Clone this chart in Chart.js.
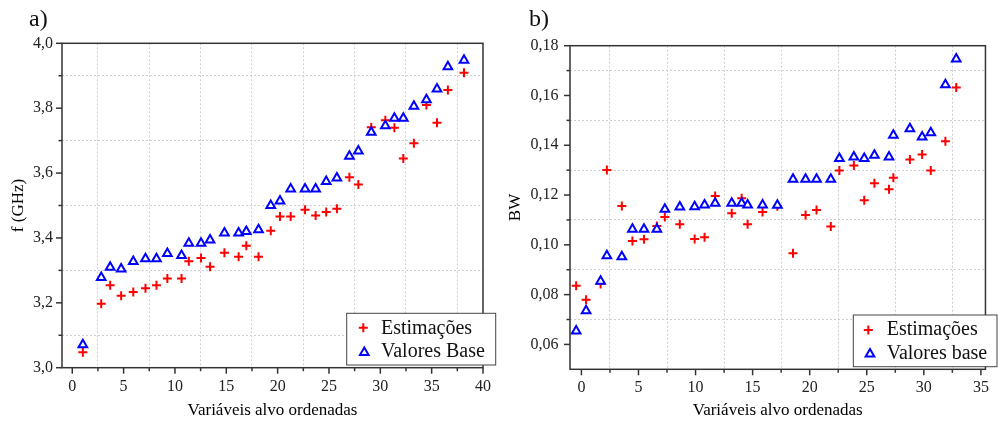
<!DOCTYPE html>
<html>
<head>
<meta charset="utf-8">
<script src="https://cdn.jsdelivr.net/npm/chart.js@4.4.1/dist/chart.umd.min.js"></script>
<style>
  html, body { margin: 0; padding: 0; background: #fff; }
  #wrap { position: relative; width: 998px; height: 425px; overflow: hidden; }
  .box { position: absolute; top: 0; height: 425px; }
</style>
</head>
<body>
<div id="wrap">
  <div class="box" style="left:0;width:500px"><canvas id="chartA"></canvas></div>
  <div class="box" style="left:500px;width:498px"><canvas id="chartB"></canvas></div>
</div>
<script>
// painel a) - frequência
const xA = [1.03, 2.82, 3.69, 4.76, 5.94, 7.13, 8.2, 9.26, 10.64, 11.35, 12.54, 13.42, 14.82, 16.2, 16.95, 18.14, 19.33,
  20.23, 21.27, 22.67, 23.7, 24.73, 25.77, 26.99, 27.86, 29.12, 30.49, 31.37, 32.24, 33.27, 34.49, 35.52, 36.58, 38.15];
const estA = [3.048, 3.197, 3.254, 3.222, 3.233, 3.245, 3.254, 3.275, 3.275, 3.328, 3.338, 3.311, 3.354, 3.342, 3.376, 3.342, 3.422,
  3.466, 3.466, 3.487, 3.469, 3.480, 3.490, 3.587, 3.565, 3.741, 3.763, 3.740, 3.645, 3.692, 3.810, 3.755, 3.856, 3.909];
const baseA = [3.071, 3.278, 3.310, 3.304, 3.327, 3.336, 3.336, 3.352, 3.346, 3.384, 3.384, 3.394, 3.415, 3.415, 3.420, 3.425, 3.500,
  3.514, 3.551, 3.551, 3.551, 3.574, 3.585, 3.652, 3.668, 3.726, 3.746, 3.769, 3.769, 3.806, 3.826, 3.859, 3.928, 3.948];
const xTicksA = [0, 5, 10, 15, 20, 25, 30, 35, 40];
const yTicksA = [3.0, 3.2, 3.4, 3.6, 3.8, 4.0];

// painel b) - largura de banda
const xB = [-0.46, 0.41, 1.68, 2.23, 3.54, 4.47, 5.48, 6.61, 7.31, 8.62, 9.92, 10.79, 11.72, 13.17, 14.04, 14.56, 15.87,
  17.17, 18.54, 19.64, 20.6, 21.85, 22.6, 23.87, 24.78, 25.67, 26.95, 27.33, 28.78, 29.85, 30.61, 31.89, 32.84];
const estB = [0.0836, 0.0779, 0.0843, 0.1301, 0.1156, 0.1015, 0.1022, 0.1076, 0.1112, 0.1083, 0.1023, 0.1030, 0.1196, 0.1127,
  0.1187, 0.1083, 0.1132, 0.1155, 0.0966, 0.1120, 0.1140, 0.1074, 0.1299, 0.1319, 0.1179, 0.1247, 0.1223, 0.1270, 0.1343,
  0.1363, 0.1299, 0.1416, 0.1632];
const baseB = [0.0654, 0.0735, 0.0854, 0.0956, 0.0952, 0.1063, 0.1063, 0.1063, 0.1143, 0.1152, 0.1153, 0.1160, 0.1167, 0.1167,
  0.1167, 0.1160, 0.1160, 0.1159, 0.1263, 0.1263, 0.1263, 0.1263, 0.1347, 0.1353, 0.1347, 0.1360, 0.1353, 0.1440, 0.1466,
  0.1433, 0.1450, 0.1643, 0.1747];
const xTicksB = [0, 5, 10, 15, 20, 25, 30, 35];
const yTicksB = [0.06, 0.08, 0.10, 0.12, 0.14, 0.16, 0.18];

const RED = '#ff0000';
const BLUE = '#0000ff';
const SERIF = "'Liberation Serif', 'Times New Roman', serif";
Chart.defaults.font.family = SERIF;
Chart.defaults.color = '#222';

// ticks principais + intermédios (Origin põe a grelha nos intermédios)
function withMinor(major) {
  const out = [];
  for (let i = 0; i < major.length; i++) {
    out.push({ value: major[i], minor: false });
    if (i < major.length - 1) out.push({ value: (major[i] + major[i + 1]) / 2, minor: true });
  }
  return out;
}
function fmt(v, d) { return v.toFixed(d).replace('.', ','); }
const gridColor = c => (c.tick && c.tick.minor) ? '#cfcfcf' : 'rgba(0,0,0,0)';

function drawCross(ctx, x, y, r) {
  ctx.beginPath();
  ctx.moveTo(x - r, y); ctx.lineTo(x + r, y);
  ctx.moveTo(x, y - r); ctx.lineTo(x, y + r);
  ctx.stroke();
}
function drawTri(ctx, x, y, r) {
  let a = 0;
  ctx.beginPath();
  ctx.moveTo(x + Math.sin(a) * r, y - Math.cos(a) * r);
  a += Math.PI * 2 / 3;
  ctx.lineTo(x + Math.sin(a) * r, y - Math.cos(a) * r);
  a += Math.PI * 2 / 3;
  ctx.lineTo(x + Math.sin(a) * r, y - Math.cos(a) * r);
  ctx.closePath();
  ctx.fillStyle = '#fff';
  ctx.fill();
  ctx.stroke();
}

// moldura, marcas dos eixos, legenda e letra do painel
const originFrame = {
  id: 'originFrame',
  afterDraw(chart, args, o) {
    const { ctx, chartArea: a, scales } = chart;
    ctx.save();
    ctx.strokeStyle = '#333';
    ctx.lineWidth = 1.5;
    ctx.strokeRect(a.left, a.top, a.right - a.left, a.bottom - a.top);
    scales.x.ticks.forEach(t => {
      const px = scales.x.getPixelForValue(t.value);
      const len = t.minor ? 3.5 : 6;
      ctx.beginPath(); ctx.moveTo(px, a.bottom); ctx.lineTo(px, a.bottom + len); ctx.stroke();
    });
    scales.y.ticks.forEach(t => {
      const py = scales.y.getPixelForValue(t.value);
      const len = t.minor ? 3.5 : 6;
      ctx.beginPath(); ctx.moveTo(a.left, py); ctx.lineTo(a.left - len, py); ctx.stroke();
    });

    const L = o.legend;
    ctx.fillStyle = '#fff';
    ctx.fillRect(L.box[0], L.box[1], L.box[2] - L.box[0], L.box[3] - L.box[1]);
    ctx.strokeStyle = '#444';
    ctx.lineWidth = 1;
    ctx.strokeRect(L.box[0], L.box[1], L.box[2] - L.box[0], L.box[3] - L.box[1]);
    ctx.font = '20px ' + SERIF;
    ctx.textBaseline = 'alphabetic';
    ctx.textAlign = 'left';
    L.rows.forEach(r => {
      ctx.lineWidth = 2;
      if (r.type === 'cross') { ctx.strokeStyle = RED; drawCross(ctx, r.x, r.y, 4.5); }
      else { ctx.strokeStyle = BLUE; drawTri(ctx, r.x, r.y, 5); }
      ctx.fillStyle = '#111';
      ctx.fillText(r.text, r.tx, r.ty);
    });

    ctx.font = '24px ' + SERIF;
    ctx.fillStyle = '#111';
    ctx.fillText(o.label, o.labelX, o.labelY);
    ctx.restore();
  }
};

function makeChart(id, cfg) {
  return new Chart(document.getElementById(id), {
    type: 'scatter',
    data: {
      datasets: [
        {
          label: 'Estimações',
          data: cfg.x.map((v, i) => ({ x: v, y: cfg.est[i] })),
          pointStyle: 'cross', pointRadius: 4.5, borderWidth: 2,
          borderColor: RED, backgroundColor: RED, order: 1
        },
        {
          label: cfg.baseLabel,
          data: cfg.x.map((v, i) => ({ x: v, y: cfg.base[i] })),
          pointStyle: 'triangle', pointRadius: 5, borderWidth: 2,
          borderColor: BLUE, backgroundColor: '#fff', order: 0
        }
      ]
    },
    options: {
      responsive: true,
      maintainAspectRatio: false,
      animation: false,
      events: [],
      layout: { padding: cfg.pad },
      plugins: {
        legend: { display: false },
        tooltip: { enabled: false },
        originFrame: cfg.frame
      },
      scales: {
        x: {
          type: 'linear', min: cfg.xMin, max: cfg.xMax,
          afterBuildTicks: s => { s.ticks = withMinor(cfg.xTicks); },
          afterFit: s => { s.height = cfg.xH; },
          ticks: { autoSkip: false, maxRotation: 0, padding: 9, font: { size: 16 },
            callback: (v, i, t) => t[i].minor ? '' : String(v) },
          grid: { drawTicks: false, color: gridColor, lineWidth: 1 },
          border: { display: false, dash: [2, 2] },
          title: { display: true, text: 'Variáveis alvo ordenadas', color: '#000',
            font: { size: 17 }, padding: { top: 0, bottom: 4 } }
        },
        y: {
          type: 'linear', min: cfg.yMin, max: cfg.yMax,
          afterBuildTicks: s => { s.ticks = withMinor(cfg.yTicks); },
          afterFit: s => { s.width = cfg.yW; },
          ticks: { autoSkip: false, padding: cfg.yPad, font: { size: 16 },
            callback: (v, i, t) => t[i].minor ? '' : fmt(v, cfg.dec) },
          grid: { drawTicks: false, color: gridColor, lineWidth: 1 },
          border: { display: false, dash: [2, 2] },
          title: { display: true, text: cfg.yTitle, color: '#000',
            font: { size: 17 }, padding: { top: cfg.yTitlePad, bottom: 0 } }
        }
      }
    },
    plugins: [originFrame]
  });
}

makeChart('chartA', {
  x: xA, est: estA, base: baseA, baseLabel: 'Valores Base',
  xMin: -1, xMax: 40, yMin: 3.0, yMax: 4.0, xTicks: xTicksA, yTicks: yTicksA, dec: 1,
  pad: { left: 0, right: 1.5, top: 43.3, bottom: 0 }, xH: 57.3, yW: 62, yPad: 9,
  yTitle: 'f (GHz)', yTitlePad: 8,
  frame: {
    label: 'a)', labelX: 29, labelY: 26,
    legend: {
      box: [346.7, 313.3, 495.7, 365],
      rows: [
        { type: 'cross', x: 363.3, y: 327.7, tx: 381, ty: 334, text: 'Estimações' },
        { type: 'tri', x: 364.3, y: 352.5, tx: 381, ty: 357.3, text: 'Valores Base' }
      ]
    }
  }
});

makeChart('chartB', {
  x: xB, est: estB, base: baseB, baseLabel: 'Valores base',
  xMin: -1, xMax: 35.4, yMin: 0.05, yMax: 0.18, xTicks: xTicksB, yTicks: yTicksB, dec: 2,
  pad: { left: 0, right: 10, top: 45.7, bottom: 0 }, xH: 55.7, yW: 70, yPad: 11.5,
  yTitle: 'BW', yTitlePad: 5,
  frame: {
    label: 'b)', labelX: 29, labelY: 26,
    legend: {
      box: [353.3, 315, 497, 366.7],
      rows: [
        { type: 'cross', x: 368.3, y: 330, tx: 386.7, ty: 335, text: 'Estimações' },
        { type: 'tri', x: 370, y: 354, tx: 386.7, ty: 359.3, text: 'Valores base' }
      ]
    }
  }
});
</script>
</body>
</html>
